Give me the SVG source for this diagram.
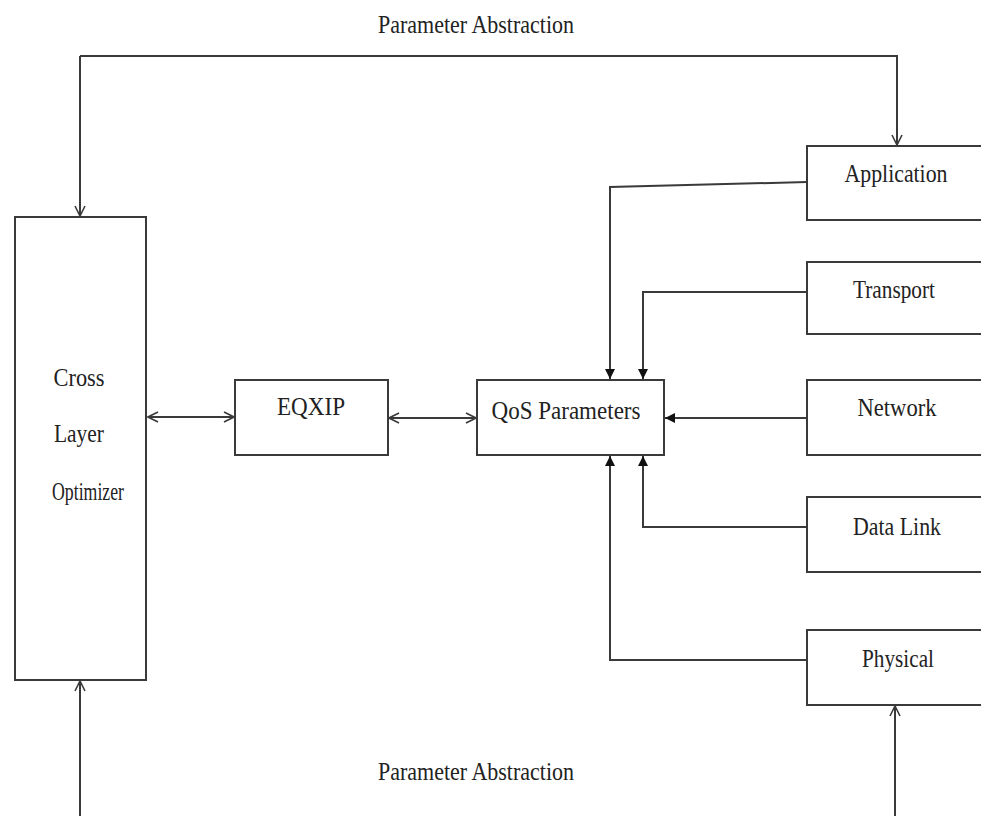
<svg xmlns="http://www.w3.org/2000/svg" width="981" height="816" viewBox="0 0 981 816">
<defs>
<style>
.box{fill:#fff;stroke:#3a3a3a;stroke-width:2}
.ln{fill:none;stroke:#3a3a3a;stroke-width:2}
.t{font-family:"Liberation Serif","Times New Roman",serif;font-size:25px;fill:#222;text-anchor:middle}
</style>
<marker id="open" viewBox="0 0 12 12" refX="11" refY="6" markerWidth="12" markerHeight="12" markerUnits="userSpaceOnUse" orient="auto-start-reverse">
<path d="M1,1 L11,6 L1,11" fill="none" stroke="#3a3a3a" stroke-width="1.6"/>
</marker>
<marker id="fill" viewBox="0 0 10 10" refX="10" refY="5" markerWidth="10" markerHeight="10" markerUnits="userSpaceOnUse" orient="auto">
<path d="M0,0 L10,5 L0,10 Z" fill="#111"/>
</marker>
</defs>
<rect width="981" height="816" fill="#fff"/>
<g id="connectors">
<polyline class="ln" points="80,56 897,56 897,145" marker-end="url(#open)"/>
<polyline class="ln" points="80,56 80,216" marker-end="url(#open)"/>
<line class="ln" x1="80" y1="816" x2="80" y2="681" marker-end="url(#open)"/>
<line class="ln" x1="895" y1="816" x2="895" y2="706" marker-end="url(#open)"/>
<line class="ln" x1="148" y1="417" x2="234" y2="417" marker-start="url(#open)" marker-end="url(#open)"/>
<line class="ln" x1="389" y1="418" x2="476" y2="418" marker-start="url(#open)" marker-end="url(#open)"/>
<polyline class="ln" points="807,182 610,187 610,379" marker-end="url(#fill)"/>
<polyline class="ln" points="807,292 643,292 643,379" marker-end="url(#fill)"/>
<line class="ln" x1="807" y1="418" x2="665" y2="418" marker-end="url(#fill)"/>
<polyline class="ln" points="807,527 643,527 643,456" marker-end="url(#fill)"/>
<polyline class="ln" points="807,660 610,660 610,456" marker-end="url(#fill)"/>
</g>
<g id="label-top"><text class="t" x="476" y="33" textLength="196" lengthAdjust="spacingAndGlyphs">Parameter Abstraction</text></g>
<g id="label-bottom"><text class="t" x="476" y="780" textLength="196" lengthAdjust="spacingAndGlyphs">Parameter Abstraction</text></g>
<g id="cross-layer-optimizer">
<rect class="box" x="15" y="217" width="131" height="463"/>
<text class="t" x="79" y="386" textLength="51" lengthAdjust="spacingAndGlyphs">Cross</text>
<text class="t" x="79" y="442" textLength="50" lengthAdjust="spacingAndGlyphs">Layer</text>
<text class="t" x="88" y="500" textLength="72" lengthAdjust="spacingAndGlyphs">Optimizer</text>
</g>
<g id="eqxip">
<rect class="box" x="235" y="380" width="153" height="75"/>
<text class="t" x="311" y="415" textLength="68" lengthAdjust="spacingAndGlyphs">EQXIP</text>
</g>
<g id="qos-parameters">
<rect class="box" x="477" y="380" width="187" height="75"/>
<text class="t" x="566" y="419" textLength="149" lengthAdjust="spacingAndGlyphs">QoS Parameters</text>
</g>
<g id="application">
<rect class="box" x="807" y="146" width="185" height="74"/>
<text class="t" x="896" y="182" textLength="103" lengthAdjust="spacingAndGlyphs">Application</text>
</g>
<g id="transport">
<rect class="box" x="807" y="262" width="185" height="72"/>
<text class="t" x="894" y="298" textLength="82" lengthAdjust="spacingAndGlyphs">Transport</text>
</g>
<g id="network">
<rect class="box" x="807" y="380" width="185" height="75"/>
<text class="t" x="897" y="416" textLength="79" lengthAdjust="spacingAndGlyphs">Network</text>
</g>
<g id="data-link">
<rect class="box" x="807" y="497" width="185" height="75"/>
<text class="t" x="897" y="535" textLength="88" lengthAdjust="spacingAndGlyphs">Data Link</text>
</g>
<g id="physical">
<rect class="box" x="807" y="630" width="185" height="75"/>
<text class="t" x="898" y="667" textLength="72" lengthAdjust="spacingAndGlyphs">Physical</text>
</g>
</svg>
